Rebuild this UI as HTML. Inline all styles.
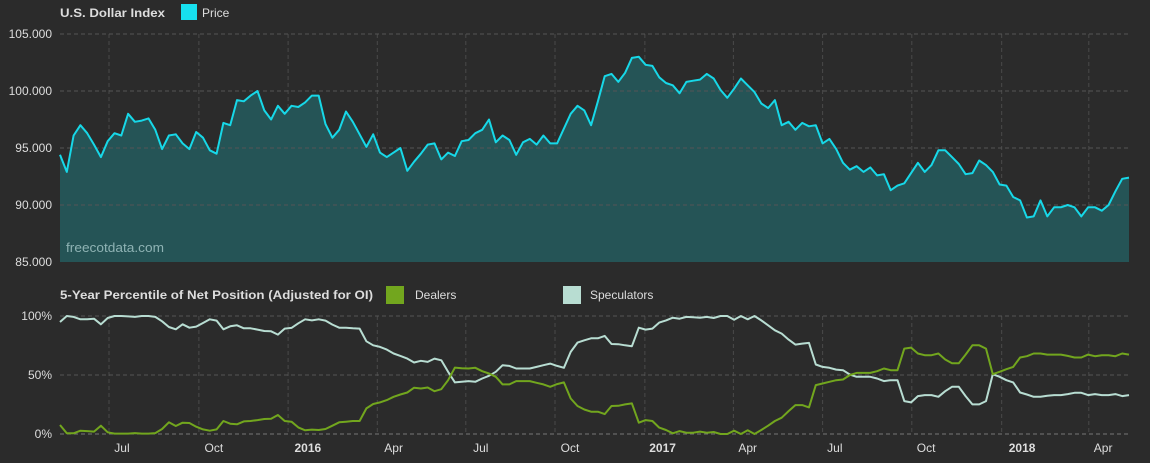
<!DOCTYPE html>
<html><head><meta charset="utf-8"><style>
html,body{margin:0;padding:0;background:#2b2b2b;}
svg{display:block;font-family:"Liberation Sans",sans-serif;}
</style></head><body>
<svg id="c" width="1150" height="463" viewBox="0 0 1150 463">
<rect width="1150" height="463" fill="#2b2b2b"/>
<g id="grid"></g>
<g id="top"></g>
<g id="bot"></g>
<text x="60" y="17" fill="#dddddd" font-size="12" font-weight="bold" textLength="105" lengthAdjust="spacingAndGlyphs">U.S. Dollar Index</text>
<rect x="181" y="4" width="16" height="16" fill="#17e0ef"/>
<text x="202" y="17" fill="#dddddd" font-size="12">Price</text>
<text x="66" y="252" fill="#8fb3b4" font-size="13" textLength="98" lengthAdjust="spacingAndGlyphs">freecotdata.com</text>
<text x="60" y="299" fill="#dddddd" font-size="12" font-weight="bold" textLength="313" lengthAdjust="spacingAndGlyphs">5-Year Percentile of Net Position (Adjusted for OI)</text>
<rect x="386" y="286" width="18" height="18" fill="#72a61e"/>
<text x="415" y="299" fill="#dddddd" font-size="12">Dealers</text>
<rect x="563" y="286" width="18" height="18" fill="#b8ddd2"/>
<text x="590" y="299" fill="#dddddd" font-size="12">Speculators</text>
</svg>
<script>
const price=[94.4,92.9,96.1,97.0,96.3,95.3,94.2,95.6,96.3,96.1,98.0,97.3,97.4,97.6,96.6,94.9,96.1,96.2,95.4,94.9,96.4,95.9,94.8,94.5,97.2,97.0,99.2,99.1,99.6,100.0,98.3,97.5,98.7,98.0,98.7,98.6,99.0,99.6,99.6,97.1,95.9,96.6,98.2,97.3,96.2,95.1,96.2,94.6,94.2,94.6,95.0,93.0,93.8,94.5,95.3,95.4,
94.0,94.6,94.3,95.6,95.7,96.3,96.6,97.5,95.5,96.1,95.7,94.4,95.5,95.8,95.3,96.1,95.4,95.4,96.7,98.0,98.7,98.3,97.0,99.1,101.3,101.5,100.8,101.6,102.9,103.0,102.3,102.2,101.2,100.7,100.5,99.8,100.8,100.9,101.0,101.5,101.1,100.1,99.4,100.2,101.1,100.5,99.9,98.9,98.5,99.2,97.0,97.3,96.6,97.2,96.9,
97.0,95.4,95.8,94.9,93.7,93.1,93.4,92.9,93.3,92.6,92.7,91.3,91.7,91.9,92.8,93.7,92.9,93.5,94.8,94.8,94.2,93.6,92.7,92.8,93.9,93.5,92.9,91.8,91.7,90.7,90.4,88.9,89.0,90.4,89.0,89.8,89.8,90.0,89.8,89.0,89.8,89.8,89.5,90.0,91.2,92.3,92.4];
const dealers=[7.6,0.6,0.6,2.8,2.5,2.0,7.0,1.4,0.3,0.3,0.3,0.8,0.3,0.3,0.8,4.2,9.9,6.8,9.6,9.3,6.2,3.9,2.8,3.9,11.0,8.7,8.2,10.7,11.0,11.8,12.7,13.0,16.1,11.0,10.4,5.6,3.1,3.7,3.4,4.2,7.0,9.9,10.4,11.0,11.0,21.7,25.4,26.8,28.7,31.5,33.5,35.2,39.2,38.6,39.4,36.3,
38.0,45.6,56.3,55.8,55.5,56.1,53.2,51.3,48.5,42.0,42.0,44.8,44.8,44.8,43.4,42.0,40.0,42.3,43.7,30.1,23.7,20.8,18.9,18.9,16.9,23.7,23.9,25.1,25.9,9.6,11.8,11.0,5.4,3.4,0.6,2.5,1.1,1.1,2.0,1.1,1.7,0,0,2.8,0,3.1,0,3.4,7.0,11.0,13.8,19.4,24.5,
24.5,22.5,41.4,42.8,44.2,45.6,46.2,49.9,51.8,51.8,51.8,53.2,55.5,54.1,54.1,72.4,73.2,68.2,66.8,66.8,68.2,63.1,60.0,60.0,67.3,75.2,75.2,72.4,50.7,52.7,54.9,56.9,64.8,65.9,68.2,68.2,67.3,67.3,67.3,66.2,64.8,64.8,67.3,65.9,66.8,66.8,65.9,68.2,67.3];
const speculators=[94.9,100,99.2,97.2,97.2,97.7,93.0,98.3,100,100,99.7,99.2,100,100,99.2,95.5,90.7,88.7,93.0,90.1,91.0,94.1,97.2,96.1,88.7,91.3,92.1,89.6,89.6,88.5,87.3,87.0,84.2,89.3,89.9,93.8,97.2,96.3,97.2,96.1,92.7,90.1,90.1,89.6,89.3,78.6,75.2,73.8,71.5,68.2,66.2,63.9,60.6,62.0,61.1,63.9,
62.5,52.7,43.7,44.2,44.8,44.2,47.0,49.3,52.7,58.3,57.7,55.5,55.5,55.5,56.9,58.3,59.7,57.7,56.1,69.6,77.5,79.4,81.1,81.1,83.1,76.3,76.1,75.2,74.4,90.1,88.5,89.3,94.4,96.3,98.6,97.7,99.2,98.9,98.6,99.2,98.3,100,100,96.9,100,97.2,100,96.3,92.1,87.9,85.1,80.0,75.8,
76.6,77.2,58.9,56.9,56.1,54.6,54.1,50.4,48.5,48.5,48.5,47.0,44.8,45.6,45.6,27.9,26.8,32.1,33.0,33.0,31.5,36.3,40.0,40.0,32.1,25.1,25.1,27.9,50.7,48.5,45.6,43.7,35.2,33.5,31.5,31.5,32.4,33.0,33.0,33.8,34.9,34.9,33.0,33.8,33.0,33.0,33.8,32.1,33.0];
const priceTicks=[105,100,95,90,85];
const pctTicks=[100,50,0];
const monthLabels=["Jul","Oct","2016","Apr","Jul","Oct","2017","Apr","Jul","Oct","2018","Apr"];
const monthWeeks=[9.1,22.6,36.4,49.0,61.8,74.9,88.5,101.0,113.8,127.2,141.3,153.2];
const gridWeeks=[7.2,20.4,33.5,46.6,59.6,72.7,85.9,98.9,112.0,125.1,138.3,151.1];

const X0=60,X1=1129,N=price.length;
const xw=w=>X0+w*(X1-X0)/(N-1);
const yP=v=>262-(v-85)*(262-34)/20;
const yQ=v=>434-v*(434-316)/100;
const NS="http://www.w3.org/2000/svg";
function mk(p,tag,at){const e=document.createElementNS(NS,tag);for(const k in at)e.setAttribute(k,at[k]);p.appendChild(e);return e;}
const G=document.getElementById('grid'),T=document.getElementById('top'),B=document.getElementById('bot');

let pts=price.map((v,i)=>xw(i).toFixed(1)+","+yP(v).toFixed(1));
let area=mk(T,'polygon',{points:X0+",262 "+pts.join(" ")+" "+X1+",262",fill:"#255456"});



gridWeeks.forEach(w=>{
  const x=xw(w);
  let a=mk(G,'line',{x1:x,x2:x,y1:34,y2:262,stroke:"#4a4a4a","stroke-dasharray":"4,3"});
  
  
  let b=mk(G,'line',{x1:x,x2:x,y1:316,y2:434,stroke:"#4a4a4a","stroke-dasharray":"4,3"});
  
  
});
priceTicks.forEach(v=>{
  const y=yP(v);
  if(v>85){let l=mk(T,'line',{x1:X0,x2:1130,y1:y,y2:y,stroke:"#555","stroke-dasharray":"4,3"});
  
  }
  let t=mk(T,'text',{x:52,y:y+4,fill:"#dddddd","font-size":"12","text-anchor":"end"});
  t.textContent=v.toFixed(3);
  
  
});
let pl=mk(T,'polyline',{points:pts.join(" "),fill:"none",stroke:"#17d8e8","stroke-width":"2","stroke-linejoin":"round"});



pctTicks.forEach(v=>{
  const y=yQ(v);
  let l=mk(B,'line',{x1:X0,x2:1130,y1:y,y2:y,stroke:v==0?"#777":"#555","stroke-dasharray":"4,3"});
  
  
  let t=mk(B,'text',{x:52,y:y+4,fill:"#dddddd","font-size":"12","text-anchor":"end"});
  t.textContent=v+"%";
  
  
});
let sl=mk(B,'polyline',{points:speculators.map((v,i)=>xw(i).toFixed(1)+","+yQ(v).toFixed(1)).join(" "),fill:"none",stroke:"#b8ddd2","stroke-width":"2","stroke-linejoin":"round"});


let dl=mk(B,'polyline',{points:dealers.map((v,i)=>xw(i).toFixed(1)+","+yQ(v).toFixed(1)).join(" "),fill:"none",stroke:"#72a61e","stroke-width":"2","stroke-linejoin":"round"});



monthLabels.forEach((s,i)=>{
  const bold=/^\d/.test(s);
  let t=mk(B,'text',{x:xw(monthWeeks[i]),y:452,fill:"#dddddd","font-size":"12","text-anchor":"middle","font-weight":bold?"bold":"normal"});
  t.textContent=s;
  
  
});
</script>
</body></html>
